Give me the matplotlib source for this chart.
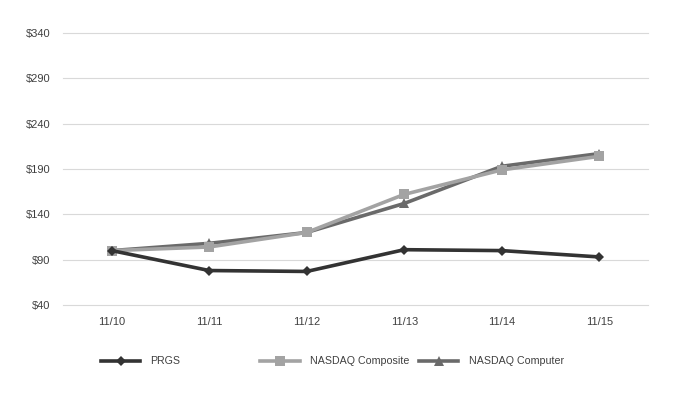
import matplotlib.pyplot as plt
from matplotlib.ticker import FuncFormatter

# data
periods = ["11/10", "11/11", "11/12", "11/13", "11/14", "11/15"]
prgs = [100, 78, 77, 101, 100, 93]
nasdaq_composite = [100, 104, 120, 162, 189, 204]
nasdaq_computer = [100, 108, 120, 152, 193, 207]
y_ticks = [40, 90, 140, 190, 240, 290, 340]

plt.rcParams["font.family"] = ["Liberation Sans", "DejaVu Sans"]

fig = plt.figure(figsize=(6.81, 3.98), dpi=100)
ax = fig.add_axes([0.0925, 0.2337, 0.859, 0.6833])

x = list(range(len(periods)))
series = [
    ("PRGS", prgs, "#333333", "D", 5.5),
    ("NASDAQ Composite", nasdaq_composite, "#a3a3a3", "s", 6.5),
    ("NASDAQ Computer", nasdaq_computer, "#6a6a6a", "^", 6.5),
]
lines = {}
for name, vals, color, marker, ms in series:
    (ln,) = ax.plot(x, vals, color=color, lw=2.6, marker=marker, ms=ms,
                    markeredgewidth=0, zorder=3 if name != "PRGS" else 4)
    lines[name] = ln
# draw computer under composite like the reference
lines["NASDAQ Computer"].set_zorder(2.5)

ax.set_xlim(-0.5, len(periods) - 0.5)
ax.set_ylim(40, 340)
ax.set_yticks(y_ticks)
ax.yaxis.set_major_formatter(FuncFormatter(lambda v, p: f"${v:.0f}"))
ax.set_xticks(x)
ax.set_xticklabels(periods)
ax.grid(axis="y", color="#d9d9d9", lw=0.8)
for gl in ax.get_ygridlines():
    gl.set_clip_on(False)
ax.set_axisbelow(True)
for s in ax.spines.values():
    s.set_visible(False)
ax.tick_params(length=0, labelsize=8, colors="#404040", pad=9)
ax.tick_params(axis="y", pad=9)

# legend entries spaced evenly like the source
legend_x = [0.148, 0.382, 0.615]
for (name, _, _, _, _), lx in zip(series, legend_x):
    fig.legend([lines[name]], [name], loc="center left", bbox_to_anchor=(lx, 0.092),
               frameon=False, fontsize=7.7, handlelength=3.7, handletextpad=0.95,
               borderaxespad=0, borderpad=0, labelcolor="#404040")

fig.savefig("out.png", dpi=100)
